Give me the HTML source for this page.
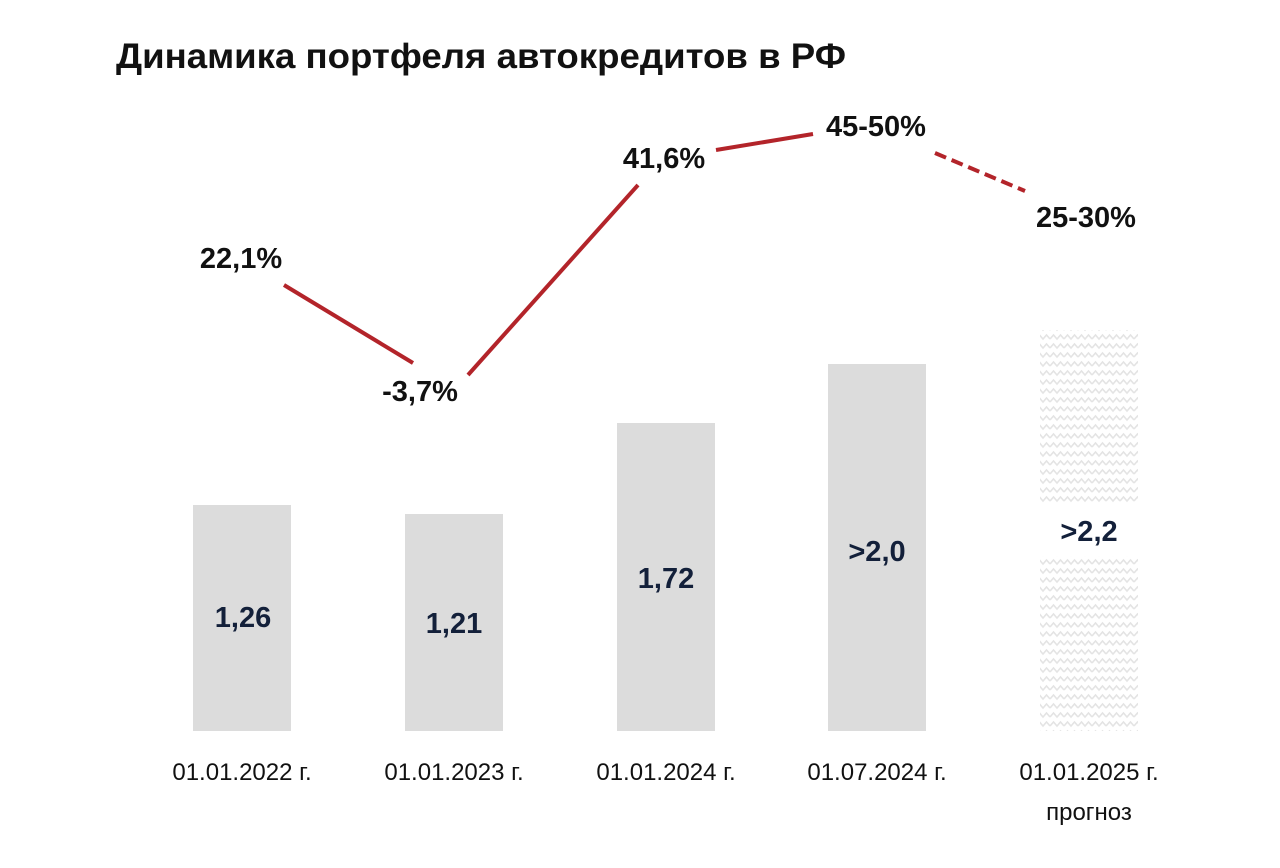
<!DOCTYPE html>
<html><head><meta charset="utf-8"><style>
body{margin:0;background:#fff;}
svg text{font-family:"Liberation Sans","DejaVu Sans",sans-serif;}
</style></head><body>
<svg width="1280" height="863" viewBox="0 0 1280 863" xmlns="http://www.w3.org/2000/svg">
<defs>
<pattern id="zz" width="14" height="9" patternUnits="userSpaceOnUse">
<path d="M0 6 L3.5 2 L7 6 L10.5 2 L14 6" fill="none" stroke="#e4e4e4" stroke-width="1.6"/>
</pattern>
</defs>
<text x="116" y="68" font-size="35" font-weight="bold" fill="#111" textLength="730" lengthAdjust="spacingAndGlyphs">Динамика портфеля автокредитов в РФ</text>
<rect x="193" y="505" width="98" height="226" fill="#dcdcdc"/>
<rect x="405" y="514" width="98" height="217" fill="#dcdcdc"/>
<rect x="617" y="423" width="98" height="308" fill="#dcdcdc"/>
<rect x="828" y="364" width="98" height="367" fill="#dcdcdc"/>
<rect x="1040" y="330" width="98" height="174" fill="url(#zz)"/>
<rect x="1040" y="556" width="98" height="175" fill="url(#zz)"/>
<g font-size="29" font-weight="bold" fill="#13203a" text-anchor="middle">
<text x="243" y="627">1,26</text>
<text x="454" y="633">1,21</text>
<text x="666" y="588">1,72</text>
<text x="877" y="561">&gt;2,0</text>
<text x="1089" y="541">&gt;2,2</text>
</g>
<g stroke="#b3242a" stroke-width="4" fill="none">
<line x1="284" y1="285" x2="413" y2="363"/>
<line x1="468" y1="375" x2="638" y2="185"/>
<line x1="716" y1="150" x2="813" y2="134"/>
<line x1="935" y1="153" x2="1025" y2="191" stroke-dasharray="12,6"/>
</g>
<g font-size="29" font-weight="bold" fill="#111" text-anchor="middle">
<text x="241" y="268">22,1%</text>
<text x="420" y="401">-3,7%</text>
<text x="664" y="168">41,6%</text>
<text x="876" y="136">45-50%</text>
<text x="1086" y="227">25-30%</text>
</g>
<g font-size="24" fill="#111" text-anchor="middle">
<text x="242" y="780">01.01.2022 г.</text>
<text x="454" y="780">01.01.2023 г.</text>
<text x="666" y="780">01.01.2024 г.</text>
<text x="877" y="780">01.07.2024 г.</text>
<text x="1089" y="780">01.01.2025 г.</text>
<text x="1089" y="820">прогноз</text>
</g>
</svg>
</body></html>
